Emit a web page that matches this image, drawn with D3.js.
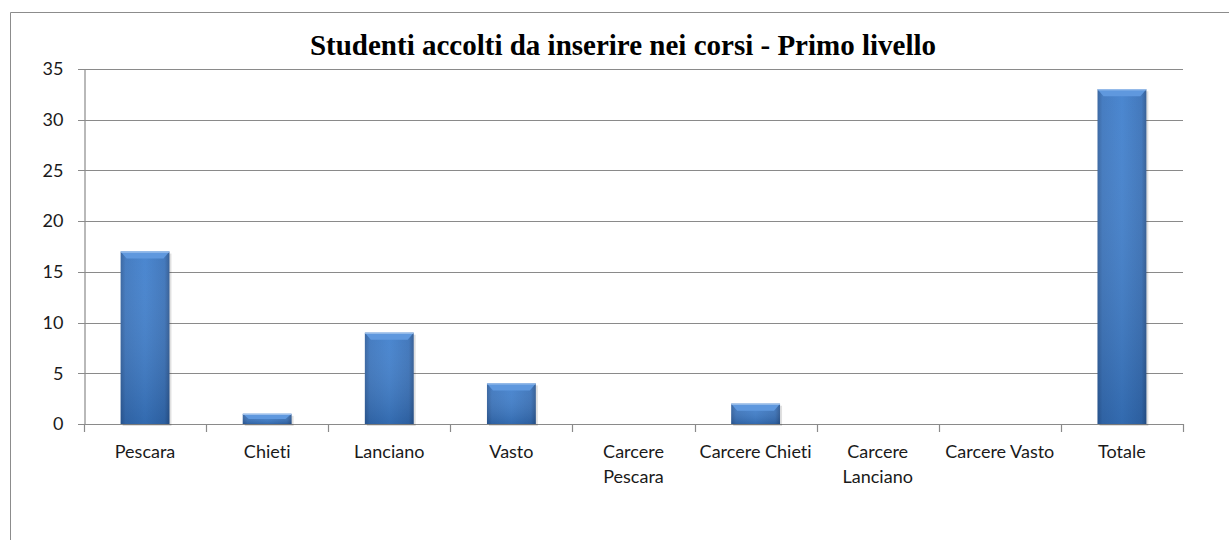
<!DOCTYPE html>
<html>
<head>
    <meta charset="utf-8" />
    <title>Studenti accolti</title>
    <script type="text/javascript" src="https://cdn.jsdelivr.net/npm/d3@7"></script>
    <style>
        body { margin: 0; background: #fff; }
        svg { display: block; }
        text { font-variant-ligatures: none; }
    </style>
</head>
<body>
    <script type="text/javascript">

        // data
        var categories = ["Pescara", "Chieti", "Lanciano", "Vasto", "Carcere Pescara",
            "Carcere Chieti", "Carcere Lanciano", "Carcere Vasto", "Totale"];
        var values = [17, 1, 9, 4, 0, 2, 0, 0, 33];
        var yTicks = [0, 5, 10, 15, 20, 25, 30, 35];
        var title = "Studenti accolti da inserire nei corsi - Primo livello";

        var w = 1229, h = 540;
        var padLeft = 84, padRight = 1183, padTop = 69, padBottom = 424;

        var svg = d3.select("body").append("svg")
            .attr("width", w)
            .attr("height", h);

        var defs = svg.append("defs");
        var gh = defs.append("linearGradient").attr("id", "barH")
            .attr("x1", 0).attr("x2", 1).attr("y1", 0).attr("y2", 0);
        gh.append("stop").attr("offset", "0").attr("stop-color", "#2f5e9c");
        gh.append("stop").attr("offset", "0.1").attr("stop-color", "#3a74bd");
        gh.append("stop").attr("offset", "0.5").attr("stop-color", "#3f7fcd");
        gh.append("stop").attr("offset", "0.9").attr("stop-color", "#3770b8");
        gh.append("stop").attr("offset", "1").attr("stop-color", "#2b5690");
        var gv = defs.append("linearGradient").attr("id", "barV")
            .attr("x1", 0).attr("x2", 0).attr("y1", 0).attr("y2", 1);
        gv.append("stop").attr("offset", "0").attr("stop-color", "#ffffff").attr("stop-opacity", 0.06);
        gv.append("stop").attr("offset", "1").attr("stop-color", "#0a2850").attr("stop-opacity", 0.24);

        // frame
        svg.append("path")
            .attr("d", "M10.5," + h + "V12.5H" + w)
            .attr("fill", "none")
            .attr("stroke", "#8c8c8c")
            .attr("stroke-width", 1);

        svg.append("text")
            .attr("x", 623)
            .attr("y", 55)
            .attr("text-anchor", "middle")
            .style("font-family", "'Liberation Serif', 'Times New Roman', serif")
            .style("font-weight", "bold")
            .style("font-size", "29px")
            .attr("fill", "#000")
            .text(title);

        var x = d3.scaleBand().domain(categories).range([padLeft, padRight]).paddingInner(0.6).paddingOuter(0.3);
        var xb = d3.scaleBand().domain(categories).range([padLeft, padRight]);
        var y = d3.scaleLinear().domain([0, 35]).range([padBottom, padTop]);

        // gridlines
        svg.append("g").selectAll("line")
            .data(yTicks)
            .enter().append("line")
            .attr("x1", padLeft - 6)
            .attr("x2", padRight)
            .attr("y1", function (d) { return Math.round(y(d)) + 0.5; })
            .attr("y2", function (d) { return Math.round(y(d)) + 0.5; })
            .attr("stroke", "#8a8a8a")
            .attr("stroke-width", 1.2);

        // y axis
        var yAxis = d3.axisLeft(y).tickValues(yTicks).tickSize(0).tickPadding(21);
        var gy = svg.append("g")
            .attr("transform", "translate(" + (padLeft + 0.5) + ",0)")
            .call(yAxis);
        gy.select(".domain").attr("stroke", "#8a8a8a").attr("stroke-width", 1.2);
        gy.selectAll("text")
            .style("font-family", "Lato, 'Open Sans', sans-serif")
            .style("font-size", "18px")
            .attr("fill", "#1a1a1a");

        // x ticks
        var xTicks = categories.map(function (c) { return xb(c); }).concat([padRight]);
        svg.append("g").selectAll("line")
            .data(xTicks)
            .enter().append("line")
            .attr("x1", function (d) { return Math.round(d) + 0.5; })
            .attr("x2", function (d) { return Math.round(d) + 0.5; })
            .attr("y1", padBottom)
            .attr("y2", padBottom + 8)
            .attr("stroke", "#8a8a8a")
            .attr("stroke-width", 1.2);

        // bars
        var bars = svg.append("g").selectAll("g")
            .data(categories.map(function (c, i) { return { cat: c, v: values[i] }; }))
            .enter().append("g")
            .filter(function (d) { return d.v > 0; });

        bars.append("rect")
            .attr("x", function (d) { return x(d.cat) + 2; })
            .attr("y", function (d) { return y(d.v) + 2; })
            .attr("width", x.bandwidth())
            .attr("height", function (d) { return padBottom - y(d.v); })
            .attr("fill", "#000")
            .attr("opacity", 0.12);
        bars.append("rect")
            .attr("x", function (d) { return x(d.cat); })
            .attr("y", function (d) { return y(d.v); })
            .attr("width", x.bandwidth())
            .attr("height", function (d) { return padBottom - y(d.v); })
            .attr("fill", "url(#barH)");
        bars.append("rect")
            .attr("x", function (d) { return x(d.cat); })
            .attr("y", function (d) { return y(d.v); })
            .attr("width", x.bandwidth())
            .attr("height", function (d) { return padBottom - y(d.v); })
            .attr("fill", "url(#barV)");
        // top bevel
        bars.append("path")
            .attr("d", function (d) {
                var x0 = x(d.cat), x1 = x0 + x.bandwidth(), t = y(d.v);
                var bh = Math.min(7, (padBottom - t) / 2);
                return "M" + x0 + "," + t + "H" + x1 + "L" + (x1 - 6) + "," + (t + bh) +
                    "H" + (x0 + 6) + "Z";
            })
            .attr("fill", "#5f98de");
        bars.append("line")
            .attr("x1", function (d) { return x(d.cat); })
            .attr("x2", function (d) { return x(d.cat) + x.bandwidth(); })
            .attr("y1", function (d) { return y(d.v) + 0.5; })
            .attr("y2", function (d) { return y(d.v) + 0.5; })
            .attr("stroke", "#a9c8ef")
            .attr("stroke-width", 1);

        // category labels, wrapped into band width
        var lab = svg.append("g")
            .style("font-family", "Lato, 'Open Sans', sans-serif")
            .style("font-size", "18px")
            .attr("fill", "#1a1a1a");
        categories.forEach(function (c) {
            var cx = xb(c) + xb.bandwidth() / 2;
            var t = lab.append("text")
                .attr("x", cx)
                .attr("y", 458)
                .attr("text-anchor", "middle");
            var line = [];
            var ts = t.append("tspan").attr("x", cx).attr("dy", 0);
            c.split(" ").forEach(function (wd) {
                line.push(wd);
                ts.text(line.join(" "));
                if (ts.node().getComputedTextLength() > xb.bandwidth() - 4 && line.length > 1) {
                    line.pop();
                    ts.text(line.join(" "));
                    line = [wd];
                    ts = t.append("tspan").attr("x", cx).attr("dy", 25).text(wd);
                }
            });
        });

    </script>
</body>
</html>
